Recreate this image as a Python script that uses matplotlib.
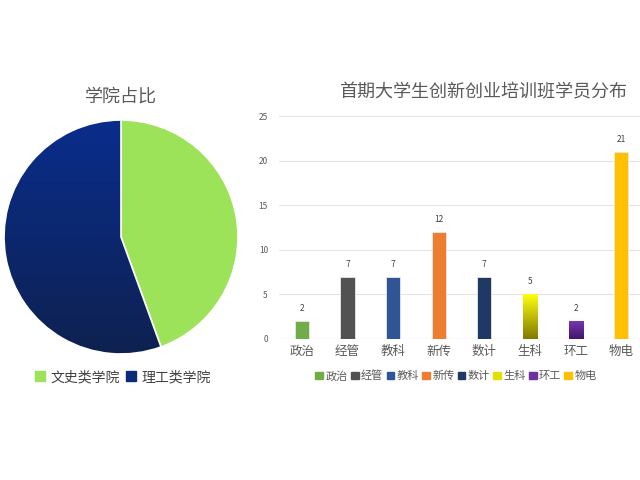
import numpy as np
import matplotlib.pyplot as plt
from matplotlib.colors import LinearSegmentedColormap
from matplotlib.patches import Rectangle

plt.rcParams['font.family'] = ['Noto Sans CJK SC', 'DejaVu Sans']

# pie data
groups = ['文史类学院', '理工类学院']
group_counts = [28, 35]

# bar data
majors = ['政治', '经管', '教科', '新传', '数计', '生科', '环工', '物电']
students = [2, 7, 7, 12, 7, 5, 2, 21]
bar_colors = ['#70ad47', '#525252', '#2f5597', '#ed7d31', '#203864', '#e0e000', '#7030a0', '#ffc000']
# gradient (top, bottom) for some bars
gradients = {5: ('#ffff10', '#807a00'), 6: ('#7a35b5', '#3e1766')}

fig = plt.figure(figsize=(6.4, 4.8), dpi=100)

# ---- pie ----
ax1 = fig.add_axes([4 / 640, 126 / 480, 234 / 640, 234 / 480])
wedges, _ = ax1.pie(group_counts, startangle=90, counterclock=False,
                    colors=['#9de35a', '#0b2a7a'],
                    wedgeprops=dict(edgecolor='white', linewidth=1.2))
ax1.set_xlim(-1, 1)
ax1.set_ylim(-1, 1)
navy = LinearSegmentedColormap.from_list('navy', ['#0e2150', '#0a2d8c'])
grad = np.linspace(0, 1, 256).reshape(-1, 1)
im = ax1.imshow(grad, cmap=navy, extent=[-1, 1, -1, 1], origin='lower',
                aspect='auto', zorder=wedges[1].get_zorder())
im.set_clip_path(wedges[1])
wedges[1].set_facecolor('none')
wedges[1].set_zorder(im.get_zorder() + 1)
fig.text(121 / 640, 1 - 97 / 480, '学院占比', ha='center', va='center',
         fontsize=13, color='#595959')
leg_handles = [Rectangle((0, 0), 1, 1, color='#9de35a'), Rectangle((0, 0), 1, 1, color='#0b2a7a')]
fig.legend(leg_handles, groups, loc='center', bbox_to_anchor=(123 / 640, 1 - 377 / 480),
           ncol=2, frameon=False, fontsize=10, handlelength=0.7, handleheight=0.7,
           columnspacing=0.5, handletextpad=0.4, labelcolor='#404040')

# ---- bars ----
ax2 = fig.add_axes([279 / 640, 141 / 480, 361 / 640, 223 / 480])
x = np.arange(len(majors))
bars = ax2.bar(x, students, width=0.31, color=bar_colors, edgecolor='#e8e8e8',
               linewidth=0.6, zorder=3)
for i, (top, bot) in gradients.items():
    b = bars[i]
    cm = LinearSegmentedColormap.from_list('g%d' % i, [bot, top])
    gim = ax2.imshow(grad, cmap=cm, origin='lower', aspect='auto', zorder=3.5,
                     extent=[b.get_x(), b.get_x() + b.get_width(), 0, b.get_height()])
    gim.set_clip_path(b)
for b, v in zip(bars, students):
    ax2.text(b.get_x() + b.get_width() / 2, v + 0.9, str(v), ha='center', va='bottom',
             fontsize=6, color='#404040')
ax2.set_xlim(-0.5, 7.41)
ax2.set_ylim(0, 25)
ax2.set_yticks([0, 5, 10, 15, 20, 25])
ax2.set_xticks(x)
ax2.set_xticklabels(majors, fontsize=9, color='#595959')
ax2.tick_params(axis='y', labelsize=6, colors='#595959', length=0, pad=8)
ax2.tick_params(axis='x', length=0, pad=4)
ax2.grid(axis='y', color='#e3e3e3', linewidth=0.8, zorder=0)
for s in ax2.spines.values():
    s.set_visible(False)
ax2.axhline(0, color='#d9d9d9', linewidth=0.8, zorder=1)
fig.text(483 / 640, 1 - 92 / 480, '首期大学生创新创业培训班学员分布', ha='center', va='center',
         fontsize=13, color='#595959')

handles = [Rectangle((0, 0), 1, 1, color=c) for c in bar_colors]
ax2.legend(handles, majors, loc='center', bbox_to_anchor=(456 / 640, 1 - 376 / 480),
           bbox_transform=fig.transFigure, ncol=8, frameon=False, fontsize=8,
           handlelength=0.7, handleheight=0.7, columnspacing=0.3, handletextpad=0.2,
           labelcolor='#595959')

fig.savefig('out.png', dpi=100)
